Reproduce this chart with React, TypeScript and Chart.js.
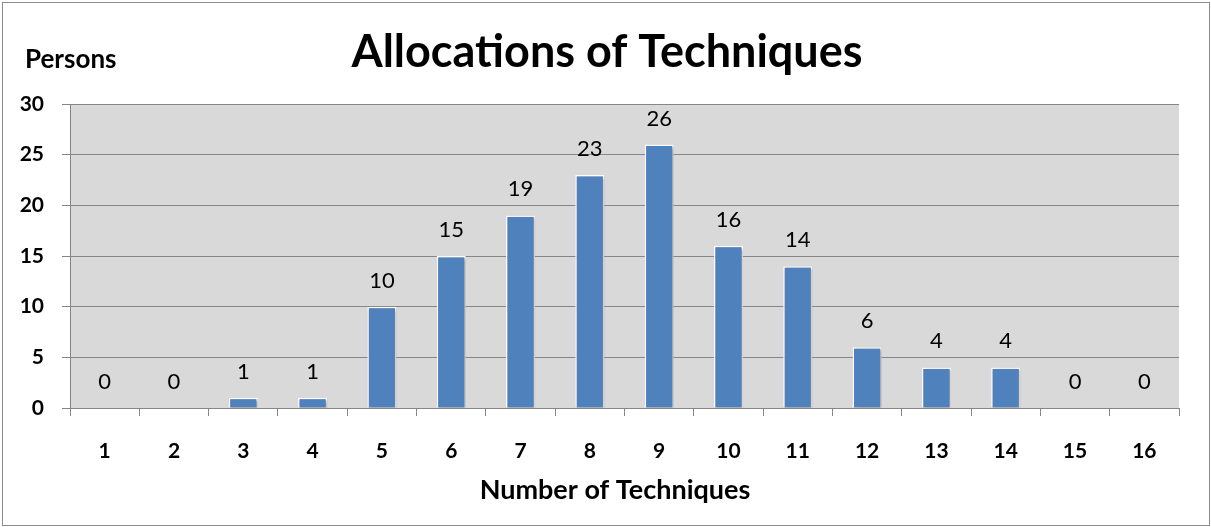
import React, { useEffect, useRef } from "react";
import { Chart, registerables } from "chart.js";

Chart.register(...registerables);

const categories = ["1", "2", "3", "4", "5", "6", "7", "8", "9", "10", "11", "12", "13", "14", "15", "16"];
const persons = [0, 0, 1, 1, 10, 15, 19, 23, 26, 16, 14, 6, 4, 4, 0, 0];
const chartTitle = "Allocations of Techniques";
const yTitle = "Persons";
const xTitle = "Number of Techniques";

const FONT = "Lato, 'Open Sans', sans-serif";

const decorPlugin = {
  id: "decor",
  beforeDraw(chart: any) {
    const { ctx, chartArea, width, height } = chart;
    ctx.save();
    ctx.fillStyle = "#ffffff";
    ctx.fillRect(0, 0, width, height);
    ctx.strokeStyle = "#8c8c8c";
    ctx.lineWidth = 1;
    ctx.strokeRect(2.5, 2.5, width - 4, height - 4);
    ctx.fillStyle = "#d9d9d9";
    ctx.fillRect(chartArea.left, chartArea.top, chartArea.right - chartArea.left, chartArea.bottom - chartArea.top);
    ctx.restore();
  },
  beforeDatasetsDraw(chart: any) {
    const { ctx } = chart;
    ctx.save();
    ctx.shadowColor = "rgba(0,0,0,0.35)";
    ctx.shadowBlur = 3;
    ctx.shadowOffsetX = 1.5;
    ctx.shadowOffsetY = 1.5;
  },
  afterDatasetsDraw(chart: any) {
    chart.ctx.restore();
  },
  afterDraw(chart: any) {
    const { ctx } = chart;
    ctx.save();
    ctx.fillStyle = "#000000";
    ctx.textBaseline = "alphabetic";
    ctx.textAlign = "center";
    ctx.font = `bold 45px ${FONT}`;
    ctx.fillText(chartTitle, 607, 67);
    ctx.textAlign = "left";
    ctx.font = `bold 26px ${FONT}`;
    ctx.fillText(yTitle, 25, 68);
    ctx.textAlign = "center";
    ctx.font = `bold 27px ${FONT}`;
    ctx.fillText(xTitle, 615, 499);
    // data labels
    const meta = chart.getDatasetMeta(0);
    ctx.font = `22px ${FONT}`;
    meta.data.forEach((bar: any, i: number) => {
      ctx.fillText(String(persons[i]), bar.x, bar.y - 19);
    });
    ctx.restore();
  },
};

export default function App() {
  const ref = useRef<HTMLCanvasElement>(null);
  useEffect(() => {
    const chart = new Chart(ref.current as HTMLCanvasElement, {
      type: "bar",
      data: {
        labels: categories,
        datasets: [
          {
            data: persons,
            backgroundColor: "#4f81bd",
            borderColor: "#ffffff",
            borderWidth: 1.5,
            barPercentage: 0.42,
            categoryPercentage: 1,
          },
        ],
      },
      options: {
        animation: false,
        responsive: false,
        devicePixelRatio: 1,
        layout: { padding: { left: 0, top: 104, right: 32, bottom: 0 } },
        plugins: { legend: { display: false }, tooltip: { enabled: false }, title: { display: false } },
        scales: {
          x: {
            afterFit: (s: any) => {
              s.height = 119;
            },
            grid: {
              display: true,
              drawOnChartArea: false,
              drawTicks: true,
              tickLength: 8,
              tickColor: "#868686",
              offset: true,
            },
            border: { color: "#868686", width: 1 },
            ticks: {
              color: "#000000",
              font: { family: FONT, size: 21, weight: "bold" },
              padding: 23,
              maxRotation: 0,
            },
          },
          y: {
            min: 0,
            max: 30,
            afterFit: (s: any) => {
              s.width = 70;
            },
            grid: {
              color: "#868686",
              drawTicks: true,
              tickLength: 8,
              tickColor: "#868686",
            },
            border: { color: "#868686", width: 1 },
            ticks: {
              stepSize: 5,
              color: "#000000",
              font: { family: FONT, size: 21, weight: "bold" },
              padding: 18,
            },
          },
        },
      },
      plugins: [decorPlugin],
    } as any);
    return () => chart.destroy();
  }, []);
  return (
    <div style={{ position: "absolute", left: 0, top: 0, width: 1211, height: 527 }}>
      <canvas ref={ref} width={1211} height={527} style={{ display: "block" }} />
    </div>
  );
}
